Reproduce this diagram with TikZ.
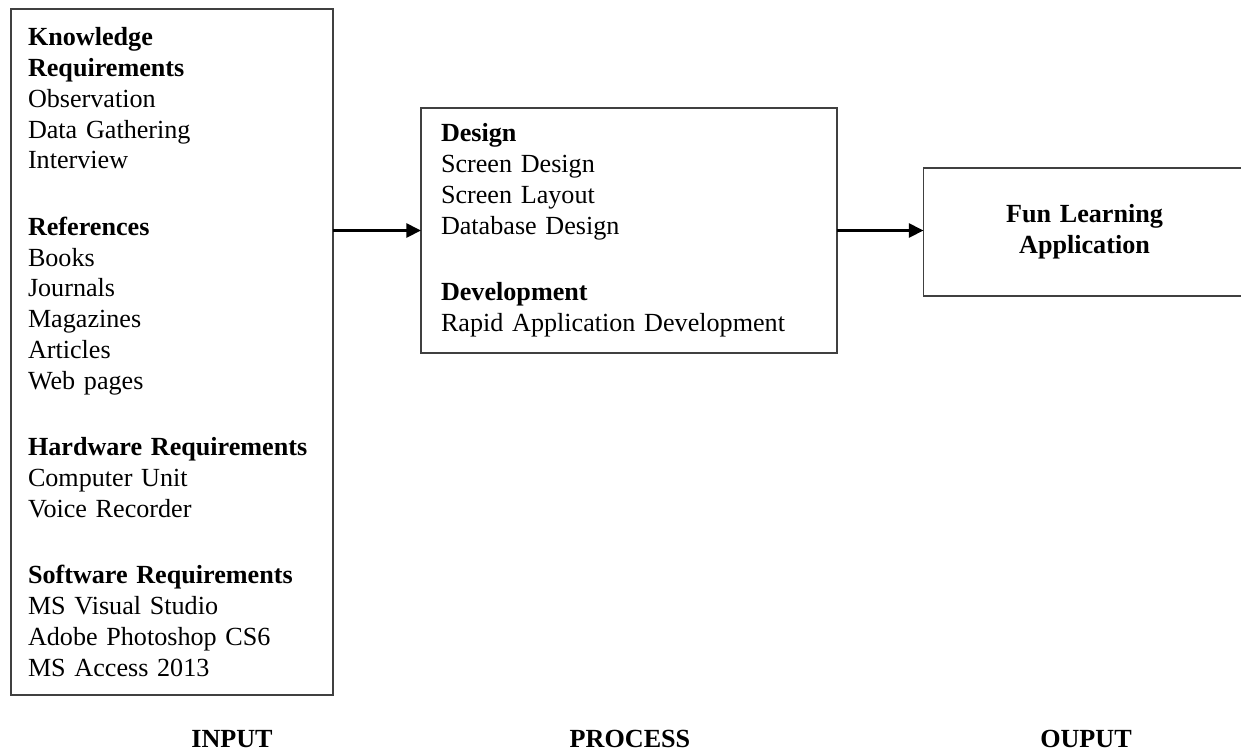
\documentclass[tikz,border=0pt]{standalone}
\usepackage{fontspec}
\setmainfont{Liberation Serif}
\usetikzlibrary{arrows.meta}

\begin{document}
\begin{tikzpicture}[x=0.75pt,y=-0.75pt,
    box/.style={draw=black!75,line width=1.2pt,inner ysep=0pt,outer sep=0pt,
        align=left,anchor=north west,font=\fontsize{19.6}{23.2}\selectfont},
    flow/.style={-{Triangle[length=11pt,width=10.5pt]},line width=2pt},
    stage/.style={font=\fontsize{19.6}{23.2}\selectfont\bfseries,anchor=base}]
    \useasboundingbox (0,0) rectangle (1241,751);
    \node[box,text width=216pt,inner xsep=12.75pt,minimum height=514.5pt] at (11,9) (inp) {%
        \textbf{Knowledge}\\ \textbf{Requirements}\\ Observation\\ Data Gathering\\ Interview\\[26.4pt]
        \textbf{References}\\ Books\\ Journals\\ Magazines\\ Articles\\ Web pages\\[26.4pt]
        \textbf{Hardware Requirements}\\ Computer Unit\\ Voice Recorder\\[26.4pt]
        \textbf{Software Requirements}\\ MS Visual Studio\\ Adobe Photoshop CS6\\ MS Access 2013};
    \node[box,text width=282pt,inner xsep=15pt,minimum height=183.75pt] at (421,108) (proc) {%
        \textbf{Design}\\ Screen Design\\ Screen Layout\\ Database Design\\[26.4pt]
        \textbf{Development}\\ Rapid Application Development};
    \node[box,align=center,text width=216pt,inner xsep=12.75pt,minimum height=96pt] at (923.5,168) (out) {%
        \textbf{Fun Learning}\\ \textbf{Application}};
    \draw[flow] (proc.west -| inp.east) -- (proc.west);
    \draw[flow] (proc.east) -- (proc.east -| out.west);
    \node[stage] at (232,747) (input) {INPUT};
    \node[stage] at (630,747) (process) {PROCESS};
    \node[stage] at (1086,747) (output) {OUPUT};
\end{tikzpicture}
\end{document}
